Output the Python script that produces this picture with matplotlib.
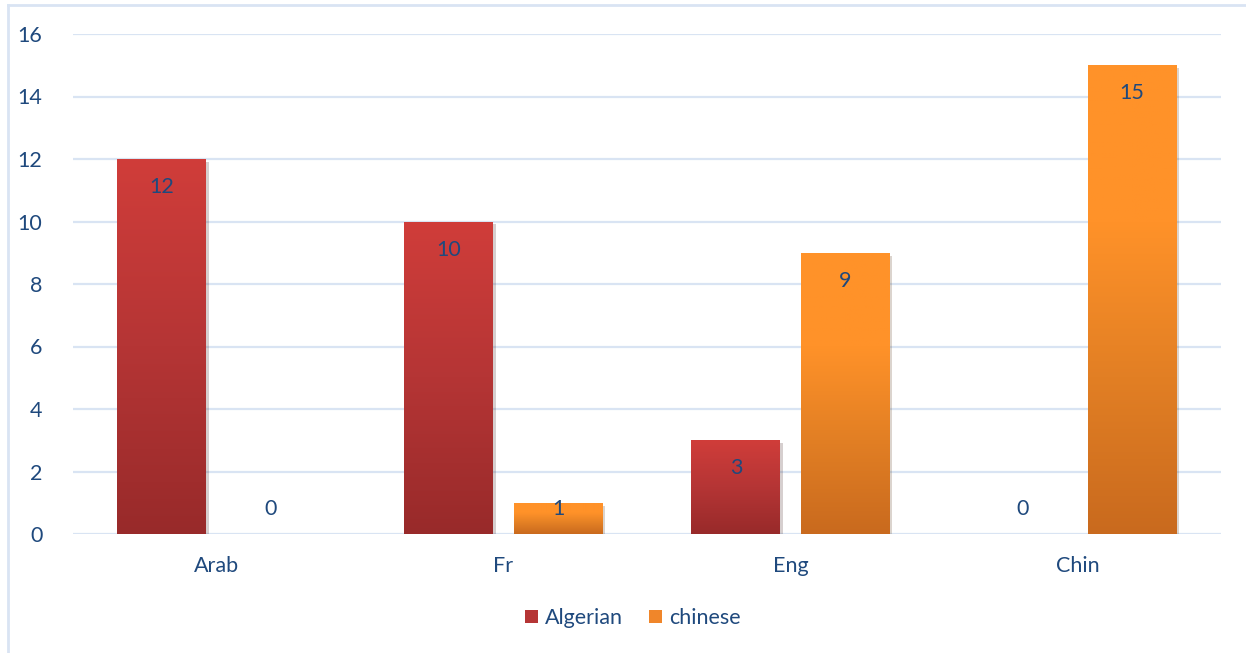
import numpy as np
import matplotlib.pyplot as plt
from matplotlib.colors import LinearSegmentedColormap
from matplotlib.patches import Patch
from matplotlib.lines import Line2D
import matplotlib.patheffects as pe

# data
categories = ["Arab", "Fr", "Eng", "Chin"]
algerian = [12, 10, 3, 0]
chinese = [0, 1, 9, 15]
series_names = ["Algerian", "chinese"]

TEXT = "#1f497d"
GRID = "#d9e4f3"
red_grad = ["#982a2a", "#b53535", "#d03d3a"]
orange_grad = ["#c96a1e", "#e27f24", "#ff9229", "#ff9229"]

plt.rcParams['font.family'] = ['Lato', 'DejaVu Sans']
FS = 15.5

fig = plt.figure(figsize=(12.46, 6.53), dpi=100)
ax = fig.add_axes([73 / 1246, 1 - 534 / 653, 1148 / 1246, 500 / 653])

x = np.arange(len(categories))
width = 0.31
offset = 0.19

grad = np.linspace(0, 1, 256).reshape(-1, 1)


def draw_series(vals, xs, colors):
    cmap = LinearSegmentedColormap.from_list("g", colors)
    bars = ax.bar(xs, vals, width, color=colors[len(colors) // 2], zorder=2,
                  path_effects=[pe.SimplePatchShadow(offset=(1.5, -2), alpha=0.2),
                                pe.Normal()])
    for b in bars:
        h = b.get_height()
        if h <= 0:
            continue
        x0 = b.get_x()
        im = ax.imshow(grad, cmap=cmap, origin="lower", aspect="auto",
                       extent=[x0, x0 + b.get_width(), 0, h], zorder=3)
        im.set_clip_path(b)
    for xi, v in zip(xs, vals):
        ax.text(xi, max(v - 0.9, 0.8), str(v), ha="center", va="center",
                fontsize=FS, color=TEXT, zorder=4)


draw_series(algerian, x - offset, red_grad)
draw_series(chinese, x + offset, orange_grad)

ax.set_xlim(-0.5, 3.5)
ax.set_ylim(0, 16)
ax.set_yticks(range(0, 17, 2))
ax.set_xticks(x)
ax.set_xticklabels(categories)
ax.tick_params(axis="both", length=0, labelsize=FS, labelcolor=TEXT)
ax.tick_params(axis="y", pad=22)
ax.tick_params(axis="x", pad=16)
ax.yaxis.grid(True, color=GRID, linewidth=1.6, zorder=0)
ax.set_axisbelow(True)
for s in ax.spines.values():
    s.set_visible(False)

handles = [Patch(facecolor="#b53535"), Patch(facecolor="#f0862a")]
fig.legend(handles, series_names, loc="center", bbox_to_anchor=(633 / 1246, 1 - 618 / 653),
           ncol=2, frameon=False, fontsize=FS, labelcolor=TEXT,
           handlelength=0.6, handleheight=0.6, handletextpad=0.35, columnspacing=1.2)

# chart frame (left and top edges)
fig.add_artist(Line2D([8 / 1246, 8 / 1246], [0, 1 - 5 / 653], color=GRID, linewidth=2))
fig.add_artist(Line2D([8 / 1246, 1], [1 - 5 / 653, 1 - 5 / 653], color=GRID, linewidth=2))

fig.savefig("out.png", dpi=100)
